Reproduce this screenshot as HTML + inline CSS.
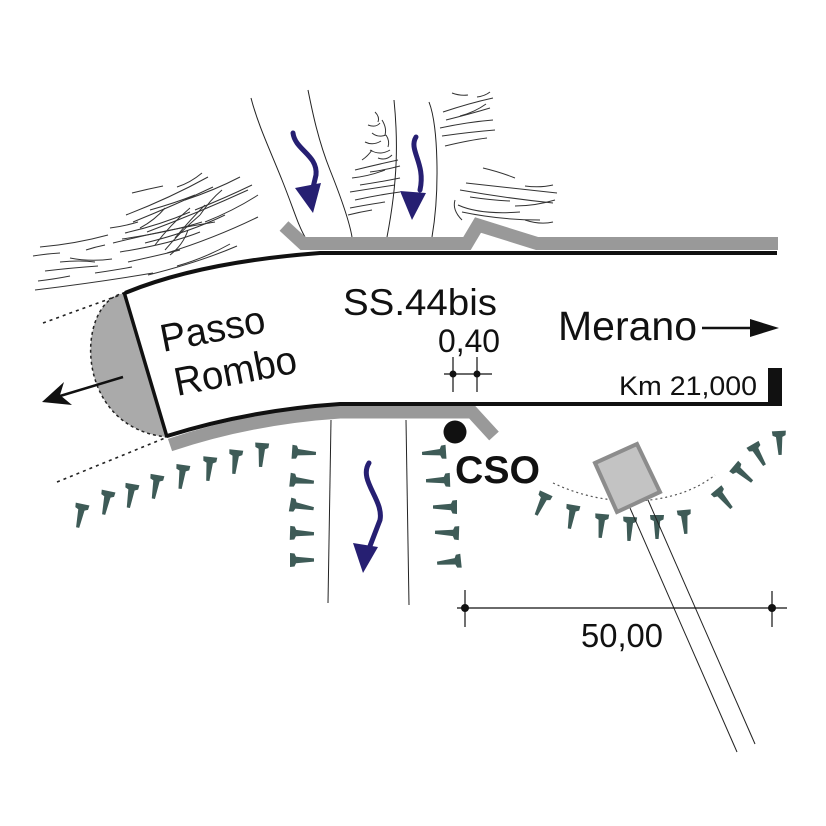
<!DOCTYPE html>
<html><head><meta charset="utf-8"><style>
html,body{margin:0;padding:0;background:#fff;}
svg{display:block;}
text{font-family:"Liberation Sans",Arial,sans-serif;fill:#111;}
</style></head><body>
<svg width="826" height="826" viewBox="0 0 826 826" xmlns="http://www.w3.org/2000/svg">
<defs>
<path id="nail" d="M-7,-3 L7,-3 L6.5,1.5 L3.2,3 L1.6,21 L-1.6,21 L-3.2,3 L-6.5,1.5 Z" fill="#3e5b57"/>
</defs>
<rect width="826" height="826" fill="#fff"/>

<!-- hatching left cluster -->
<g fill="none" stroke="#333" stroke-width="1">
<path d="M40,247 Q75,244 108,235"/>
<path d="M33,256 Q45,254 60,253"/>
<path d="M70,258 Q90,262 112,259"/>
<path d="M86,250 Q95,247 105,245"/>
<path d="M45,271 Q70,268 98,266"/>
<path d="M38,281 Q55,279 70,276"/>
<path d="M35,290 Q100,282 153,273"/>
<path d="M95,273 Q115,270 132,267"/>
<path d="M113,243 Q165,230 215,222"/>
<path d="M120,252 Q170,244 200,232"/>
<path d="M128,262 Q160,255 180,250"/>
<path d="M148,275 Q200,262 237,246"/>
<path d="M167,253 Q215,238 258,217"/>
<path d="M177,266 Q205,258 230,244"/>
<path d="M132,193 Q148,189 163,186"/>
<path d="M177,187 Q190,183 202,173"/>
<path d="M126,215 Q170,198 208,177"/>
<path d="M133,222 Q175,205 213,187"/>
<path d="M125,233 Q160,225 190,212"/>
<path d="M147,232 Q200,212 248,190"/>
<path d="M122,239 Q170,232 202,222"/>
<path d="M145,243 Q190,232 225,215"/>
<path d="M185,200 Q215,190 240,177"/>
<path d="M195,210 Q225,198 252,185"/>
<path d="M205,222 Q235,210 258,195"/>
<path d="M150,210 Q175,203 195,195"/>
<path d="M155,245 Q170,225 190,208"/>
<path d="M165,250 Q180,232 200,215"/>
<path d="M175,238 Q190,220 205,205"/>
<path d="M170,255 Q183,245 188,230"/>
<path d="M140,228 Q155,220 165,208"/>
<path d="M200,215 Q210,200 222,190"/>
<path d="M60,262 Q80,260 95,262"/>
<path d="M110,228 Q125,226 138,222"/>
</g>

<!-- hatching middle cluster -->
<g fill="none" stroke="#333" stroke-width="1">
<path d="M375,112 q5,5 3,10"/>
<path d="M368,125 q8,3 12,-2"/>
<path d="M372,133 q6,5 14,2"/>
<path d="M365,142 q8,4 16,-1"/>
<path d="M370,150 q10,6 20,0"/>
<path d="M378,158 q8,3 14,-3"/>
<path d="M382,120 q5,8 3,15"/>
<path d="M386,135 q4,6 2,12"/>
<path d="M362,160 q6,-4 10,-10"/>
<path d="M355,170 Q375,165 398,160"/>
<path d="M352,178 Q370,176 385,170"/>
<path d="M360,185 Q380,182 400,178"/>
<path d="M350,192 Q375,188 395,185"/>
<path d="M355,200 Q378,195 400,192"/>
<path d="M350,208 Q365,205 385,202"/>
<path d="M370,172 Q385,170 400,166"/>
<path d="M348,215 Q360,212 372,210"/>
</g>

<!-- hatching right clusters -->
<g fill="none" stroke="#333" stroke-width="1">
<path d="M452,93 Q460,96 468,95"/>
<path d="M477,97 Q485,96 490,92"/>
<path d="M443,112 Q470,103 493,98"/>
<path d="M446,120 Q470,114 490,108"/>
<path d="M440,128 Q468,122 493,120"/>
<path d="M442,136 Q470,132 495,130"/>
<path d="M445,146 Q470,140 487,138"/>
<path d="M460,116 Q475,112 486,104"/>
<path d="M483,168 Q500,172 515,178"/>
<path d="M525,186 Q540,188 553,185"/>
<path d="M466,183 Q510,188 557,193"/>
<path d="M460,190 Q505,198 553,203"/>
<path d="M470,197 Q490,200 510,201"/>
<path d="M515,206 Q535,206 555,200"/>
<path d="M458,205 Q480,215 520,212"/>
<path d="M462,212 Q500,220 540,220"/>
<path d="M455,200 Q452,210 462,220"/>
<path d="M525,220 Q540,225 553,222"/>
</g>

<!-- thin vertical lines above -->
<g fill="none" stroke="#222" stroke-width="1">
<path d="M251,98 C258,125 270,150 282,180 S298,225 305,237"/>
<path d="M308,90 C312,110 318,140 330,170 S350,225 352,237"/>
<path d="M394,100 C398,140 398,180 387,237"/>
<path d="M429,102 C438,125 440,190 432,237"/>
</g>

<!-- thin vertical lines below -->
<g fill="none" stroke="#222" stroke-width="1">
<path d="M331,420 L328,603"/>
<path d="M406,420 L409,605"/>
</g>

<!-- gray bands -->
<path d="M284,226 L303,243.5 L467,243.5 L478,225 L537,243.5 L778,243.5" fill="none" stroke="#999" stroke-width="13" stroke-linejoin="miter"/>
<path d="M170,445 Q250,418 340,412 L472,412 L494,436" fill="none" stroke="#999" stroke-width="13"/>

<!-- left half ellipse -->
<path d="M125,293 C75,300 72,428 167,437 Z" fill="#aaa" stroke="#222" stroke-width="1.5" stroke-dasharray="3,3"/>

<!-- road edges -->
<path d="M125,293 Q200,262 320,253 L777,253" fill="none" stroke="#111" stroke-width="4"/>
<path d="M167,436 Q250,410 340,404 L782,404" fill="none" stroke="#111" stroke-width="4"/>
<path d="M124,292 L167,437" fill="none" stroke="#111" stroke-width="3.5"/>
<rect x="768" y="368" width="14" height="38" fill="#111"/>

<!-- dotted lines left -->
<g stroke="#222" stroke-width="1.6" stroke-dasharray="3,4">
<line x1="43" y1="323" x2="120" y2="295"/>
<line x1="57" y1="482" x2="165" y2="438"/>
</g>

<!-- left arrow -->
<line x1="123" y1="377" x2="60" y2="396" stroke="#111" stroke-width="2.5"/>
<polygon points="42,402 64,382 60,395 72,405" fill="#111"/>

<!-- blue arrows -->
<g fill="none" stroke="#261f72" stroke-width="5" stroke-linecap="round">
<path d="M293,133 C295,150 318,155 316,175 L312,192"/>
<path d="M416,137 C408,150 426,163 420,190"/>
<path d="M369,463 C358,480 384,500 380,520 L370,546"/>
</g>
<g fill="#261f72">
<polygon points="295,188 321,183 313,213"/>
<polygon points="400,191 426,193 412,220"/>
<polygon points="353,543 378,547 363,573"/>
</g>

<!-- nails left row -->
<use href="#nail" transform="translate(82,507) rotate(12)"/>
<use href="#nail" transform="translate(108,494) rotate(12)"/>
<use href="#nail" transform="translate(132,487) rotate(10)"/>
<use href="#nail" transform="translate(157,478) rotate(10)"/>
<use href="#nail" transform="translate(183,468) rotate(8)"/>
<use href="#nail" transform="translate(210,460) rotate(6)"/>
<use href="#nail" transform="translate(236,453) rotate(6)"/>
<use href="#nail" transform="translate(262,446) rotate(4)"/>
<!-- left column -->
<use href="#nail" transform="translate(295,452) rotate(-86)"/>
<use href="#nail" transform="translate(293,480) rotate(-84)"/>
<use href="#nail" transform="translate(293,505) rotate(-80)"/>
<use href="#nail" transform="translate(293,533) rotate(-88)"/>
<use href="#nail" transform="translate(293,560) rotate(-90)"/>
<!-- right column -->
<use href="#nail" transform="translate(443,452) rotate(86)"/>
<use href="#nail" transform="translate(447,480) rotate(88)"/>
<use href="#nail" transform="translate(454,507) rotate(90)"/>
<use href="#nail" transform="translate(456,533) rotate(92)"/>
<use href="#nail" transform="translate(458,561) rotate(84)"/>
<!-- dotted arc -->
<path d="M553,483 Q600,505 650,500 Q690,495 715,475" fill="none" stroke="#555" stroke-width="1.2" stroke-dasharray="2,3"/>
<!-- right arc nails -->
<use href="#nail" transform="translate(545,496) rotate(25)"/>
<use href="#nail" transform="translate(573,508) rotate(10)"/>
<use href="#nail" transform="translate(602,517) rotate(5)"/>
<use href="#nail" transform="translate(630,520) rotate(3)"/>
<use href="#nail" transform="translate(657,518) rotate(0)"/>
<use href="#nail" transform="translate(684,513) rotate(-5)"/>
<use href="#nail" transform="translate(718,492) rotate(-40)"/>
<use href="#nail" transform="translate(736,468) rotate(-50)"/>
<use href="#nail" transform="translate(754,447) rotate(-30)"/>
<use href="#nail" transform="translate(779,434) rotate(-3)"/>

<!-- pipe -->
<g stroke="#222" stroke-width="1">
<line x1="630" y1="508" x2="737" y2="752"/>
<line x1="648" y1="500" x2="755" y2="744"/>
</g>
<polygon points="595,463 637,444 660,492 617,512" fill="#c3c3c3" stroke="#8c8c8c" stroke-width="4"/>

<!-- CSO dot -->
<circle cx="455" cy="432" r="11.5" fill="#111"/>

<!-- dimension 0,40 -->
<g stroke="#111" stroke-width="1.2">
<line x1="453" y1="357" x2="453" y2="392"/>
<line x1="477" y1="357" x2="477" y2="392"/>
<line x1="444" y1="374" x2="492" y2="374"/>
</g>
<circle cx="453" cy="374" r="3.5" fill="#111"/>
<circle cx="477" cy="374" r="3.5" fill="#111"/>

<!-- dimension 50,00 -->
<g stroke="#111" stroke-width="1.2">
<line x1="457" y1="608" x2="787" y2="608"/>
<line x1="465" y1="590" x2="465" y2="627"/>
<line x1="772" y1="591" x2="772" y2="627"/>
</g>
<circle cx="465" cy="608" r="4" fill="#111"/>
<circle cx="772" cy="608" r="4" fill="#111"/>

<!-- Merano arrow -->
<line x1="702" y1="328" x2="760" y2="328" stroke="#111" stroke-width="2.5"/>
<polygon points="750,319 779,328 750,337" fill="#111"/>

<!-- texts -->
<text x="343" y="315" font-size="37" textLength="154" lengthAdjust="spacingAndGlyphs">SS.44bis</text>
<text x="438" y="352" font-size="32" textLength="62" lengthAdjust="spacingAndGlyphs">0,40</text>
<text x="558" y="340" font-size="41" textLength="139" lengthAdjust="spacingAndGlyphs">Merano</text>
<text x="619" y="395" font-size="27" textLength="138" lengthAdjust="spacingAndGlyphs">Km 21,000</text>
<text x="455" y="483" font-size="39" font-weight="bold" textLength="85" lengthAdjust="spacingAndGlyphs">CSO</text>
<text x="581" y="647" font-size="33" textLength="82" lengthAdjust="spacingAndGlyphs">50,00</text>
<text x="163" y="352" font-size="39" textLength="106" lengthAdjust="spacingAndGlyphs" transform="rotate(-11 163 352)">Passo</text>
<text x="177" y="396" font-size="40" textLength="124" lengthAdjust="spacingAndGlyphs" transform="rotate(-11 177 396)">Rombo</text>
</svg>
</body></html>
